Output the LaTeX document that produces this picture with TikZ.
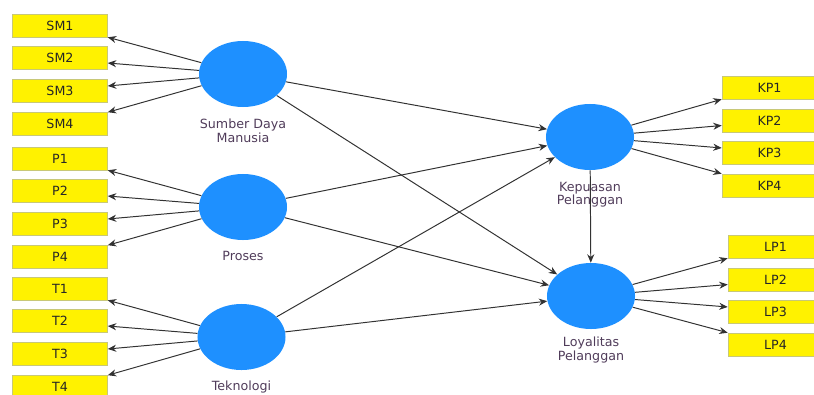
\documentclass[tikz,border=0pt]{standalone}
\usepackage{fontspec}
\setmainfont{DejaVu Sans}
\usetikzlibrary{positioning, shapes.geometric, arrows.meta}

\definecolor{lvblue}{RGB}{30,144,255}
\definecolor{boxline}{RGB}{200,200,120}
\definecolor{lvtext}{RGB}{80,60,90}
\definecolor{arrowgrey}{RGB}{50,50,50}

\tikzset{
  indicator/.style={rectangle, draw=boxline, fill=yellow, line width=0.4pt,
    minimum width=2.375cm, minimum height=0.575cm, inner sep=0pt,
    text=black!85, font=\fontsize{9pt}{10pt}\selectfont},
  latent/.style={ellipse, fill=lvblue, minimum width=2.2cm, minimum height=1.65cm, inner sep=0pt},
  lvlabel/.style={anchor=north, align=center, text=lvtext, inner sep=0pt,
    font=\fontsize{9pt}{9.4pt}\selectfont},
  path/.style={draw=arrowgrey, line width=0.7pt, -{Stealth[length=6pt,width=5pt]}}
}

\begin{document}
\begin{tikzpicture}[x=0.025cm, y=-0.025cm]
    \useasboundingbox (0,0) rectangle (814,394);

    % Latent variables
    \node[latent] (sdm) at (243,74) {};
    \node[latent] (pro) at (243,207) {};
    \node[latent] (tek) at (241.5,337) {};
    \node[latent] (kp) at (590,137) {};
    \node[latent] (lp) at (591,296) {};

    % Labels of the latent variables
    \node[lvlabel] (sdmlab) at (243,119) {Sumber Daya\\Manusia};
    \node[lvlabel] (prolab) at (243,251) {Proses};
    \node[lvlabel] (teklab) at (241.5,381) {Teknologi};
    \node[lvlabel] (kplab) at (590,182) {Kepuasan\\Pelanggan};
    \node[lvlabel] (lplab) at (591,337) {Loyalitas\\Pelanggan};

    % Left indicators
    \foreach \n/\t/\y/\lv/\a in {sm1/SM1/25.5/sdm/south east, sm2/SM2/58/sdm/-6, sm3/SM3/91/sdm/6, sm4/SM4/124/sdm/north east,
        p1/P1/158.5/pro/south east, p2/P2/191/pro/-6, p3/P3/224/pro/6, p4/P4/257/pro/north east,
        t1/T1/288.5/tek/south east, t2/T2/321/tek/-6, t3/T3/354/tek/6, t4/T4/387/tek/north east} {
      \node[indicator] (\n) at (60,\y) {\t};
      \draw[path] (\lv) -- (\n.\a);
    }

    % Right indicators
    \foreach \n/\t/\x/\y/\lv/\a in {kp1/KP1/769.5/87.5/kp/south west, kp2/KP2/769.5/120.5/kp/186, kp3/KP3/769.5/153/kp/174, kp4/KP4/769.5/185.5/kp/north west,
        lp1/LP1/775.5/246.5/lp/south west, lp2/LP2/775.5/279.5/lp/186, lp3/LP3/775.5/312/lp/174, lp4/LP4/775.5/344.5/lp/north west} {
      \node[indicator] (\n) at (\x,\y) {\t};
      \draw[path] (\lv) -- (\n.\a);
    }

    % Structural paths
    \draw[path] (sdm) -- (kp);
    \draw[path] (sdm) -- (lp);
    \draw[path] (pro) -- (kp);
    \draw[path] (pro) -- (lp);
    \draw[path] (tek) -- (kp);
    \draw[path] (tek) -- (lp);
    \draw[path] (kp) -- (lp);

\end{tikzpicture}
\end{document}
